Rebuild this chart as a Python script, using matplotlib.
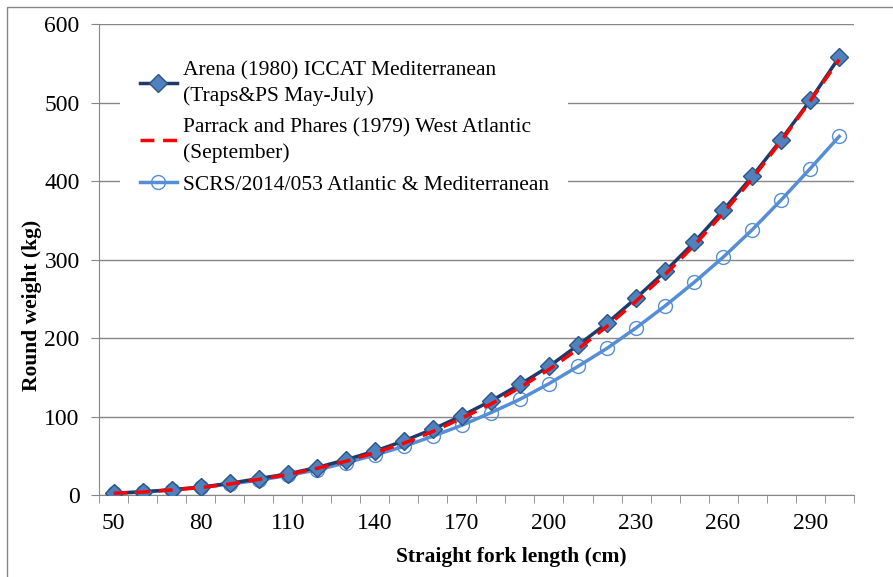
import matplotlib
matplotlib.use("Agg")
from matplotlib import pyplot as plt
from matplotlib.patches import Rectangle

plt.rcParams['font.family'] = ['Liberation Serif', 'DejaVu Serif']

# fork length categories (cm)
lengths = [50, 60, 70, 80, 90, 100, 110, 120, 130, 140, 150, 160, 170,
           180, 190, 200, 210, 220, 230, 240, 250, 260, 270, 280, 290, 300]

arena = [2.5, 4, 7, 10, 15, 21, 27, 35, 45, 56, 69, 84, 101,
         120, 141, 164, 191, 219, 251, 285, 322, 363, 406, 453, 503, 558]
parrack = [2.3, 3.8, 6.5, 9.5, 14, 20, 26, 34, 43, 54, 66, 81, 98,
           116, 137, 160, 186, 215, 247, 281, 318, 359, 403, 451, 502, 555]
scrs = [2.3, 4, 6.5, 10, 14, 19, 25, 32, 41, 51, 62, 75, 89,
        105, 122, 142, 164, 187, 213, 241, 271, 303, 338, 376, 416, 457]

x_labels = [50, 80, 110, 140, 170, 200, 230, 260, 290]

fig = plt.figure(figsize=(8.93, 5.77), dpi=100)
ax = fig.add_axes([0.111, 0.142, 0.845, 0.816])

ax.plot(lengths, arena, color='#1F3A68', lw=2.5, marker='D', ms=9,
        markerfacecolor='#4F81BD', markeredgecolor='#2E5486', mew=1,
        label='Arena (1980) ICCAT Mediterranean\n(Traps&PS May-July)', zorder=3)
ax.plot(lengths, parrack, color='#FF0000', lw=2.5, ls=(0, (4, 2.5)),
        label='Parrack and Phares (1979) West Atlantic\n(September)', zorder=4)
ax.plot(lengths, scrs, color='#558ED5', lw=2.5, marker='o', ms=10,
        markerfacecolor='none', markeredgecolor='#558ED5', mew=1,
        label='SCRS/2014/053 Atlantic & Mediterranean', zorder=2)

ax.set_xlim(45, 305)
ax.set_ylim(0, 600)
ax.set_yticks(range(0, 601, 100))
ax.set_xticks(x_labels)
ax.set_xticks([l - 5 for l in lengths] + [305], minor=True)
ax.tick_params(axis='x', which='major', length=0, pad=13, labelsize=17)
ax.tick_params(axis='x', which='minor', length=6, color='#868686')
ax.tick_params(axis='y', length=6, color='#868686', labelsize=17, pad=8)

ax.grid(axis='y', color='#868686', lw=1)
ax.set_axisbelow(True)
for s in ['top', 'right']:
    ax.spines[s].set_visible(False)
for s in ['left', 'bottom']:
    ax.spines[s].set_color('#868686')

ax.set_xlabel('Straight fork length (cm)', fontsize=15.5, fontweight='bold')
ax.set_ylabel('Round weight (kg)', fontsize=15.5, fontweight='bold')
ax.xaxis.set_label_coords(0.546, -0.11)
ax.yaxis.set_label_coords(-0.076, 0.403)

# legend sits on a white box without border, hiding the gridlines behind it
leg = ax.legend(loc='upper left', bbox_to_anchor=(0.028, 0.963), frameon=True,
                fontsize=15.5, handlelength=1.75, handletextpad=0.25, labelspacing=0.55,
                borderaxespad=0, borderpad=0.9, fancybox=False, framealpha=1)
leg.get_frame().set_facecolor('white')
leg.get_frame().set_edgecolor('none')
for t in leg.get_texts():
    t.set_linespacing(1.4)

fig.patches.append(Rectangle((0.0078, -0.5), 2, 0.988 + 0.5, transform=fig.transFigure,
                             fill=False, edgecolor='#868686', lw=1))

fig.savefig('out.png', dpi=100)
